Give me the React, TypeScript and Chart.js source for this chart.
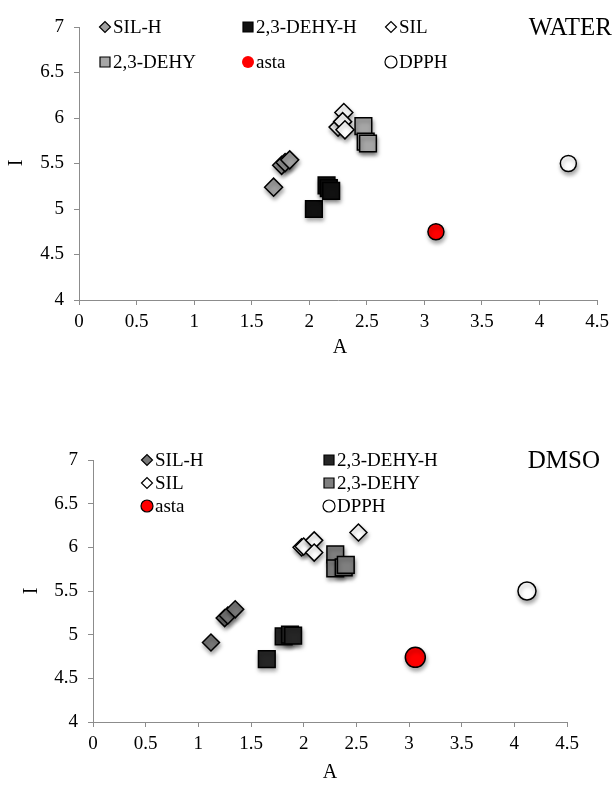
import React, { useEffect, useRef } from "react";
import { Chart, registerables } from "chart.js";

Chart.register(...registerables);

// ---------- DATA ----------
const X_TICKS = [0, 0.5, 1, 1.5, 2, 2.5, 3, 3.5, 4, 4.5];
const Y_TICKS = [4, 4.5, 5, 5.5, 6, 6.5, 7];

// WATER
const W_SILH_A = [1.69, 1.76, 1.79, 1.83];
const W_SILH_I = [5.24, 5.48, 5.51, 5.54];
const W_DEHYH_A = [2.04, 2.15, 2.17, 2.19];
const W_DEHYH_I = [5.0, 5.26, 5.23, 5.2];
const W_SIL_A = [2.3, 2.25, 2.29, 2.31];
const W_SIL_I = [6.06, 5.9, 5.96, 5.87];
const W_DEHY_A = [2.47, 2.49, 2.51];
const W_DEHY_I = [5.91, 5.74, 5.72];
const W_ASTA_A = [3.1];
const W_ASTA_I = [4.75];
const W_DPPH_A = [4.25];
const W_DPPH_I = [5.5];

// DMSO
const D_SILH_A = [1.12, 1.25, 1.28, 1.35];
const D_SILH_I = [4.91, 5.19, 5.22, 5.29];
const D_DEHYH_A = [1.65, 1.81, 1.87, 1.9];
const D_DEHYH_I = [4.72, 4.98, 5.0, 4.99];
const D_SIL_A = [1.98, 2.0, 2.1, 2.1, 2.52];
const D_SIL_I = [6.0, 6.01, 6.08, 5.94, 6.17];
const D_DEHY_A = [2.3, 2.3, 2.38, 2.4];
const D_DEHY_I = [5.92, 5.76, 5.77, 5.8];
const D_ASTA_A = [3.06];
const D_ASTA_I = [4.74];
const D_DPPH_A = [4.12];
const D_DPPH_I = [5.5];

const SERIES_NAMES = ["SIL-H", "2,3-DEHY-H", "SIL", "2,3-DEHY", "asta", "DPPH"];

const FONT = "'Liberation Serif', 'Times New Roman', serif";

const pts = (a: number[], i: number[]) => a.map((x, k) => ({ x, y: i[k] }));

type Style = { style: string; fill: string; r: number };

function makeDatasets(data: [number[], number[]][], styles: Style[]) {
  return data.map(([a, i], k) => ({
    label: SERIES_NAMES[k],
    data: pts(a, i),
    pointStyle: styles[k].style,
    pointRadius: styles[k].r,
    pointHoverRadius: styles[k].r,
    backgroundColor: styles[k].fill,
    borderColor: "#000000",
    pointBorderWidth: 1.5,
    showLine: false,
  }));
}

type LegendItem = { name: string; style: string; fill: string; border: boolean; x: number; y: number };

type Panel = {
  width: number;
  height: number;
  left: number;
  right: number;
  top: number;
  bottom: number;
  datasets: any[];
  legend: LegendItem[];
  title: string;
  titleX: number;
  titleY: number;
  yTitle: [number, number];
  xTitle: [number, number];
};

function drawMarker(ctx: CanvasRenderingContext2D, it: LegendItem) {
  ctx.save();
  ctx.fillStyle = it.fill;
  ctx.strokeStyle = "#000";
  ctx.lineWidth = 1.2;
  ctx.beginPath();
  const s = 5.5;
  if (it.style === "rectRot") {
    ctx.moveTo(it.x - s, it.y);
    ctx.lineTo(it.x, it.y - s);
    ctx.lineTo(it.x + s, it.y);
    ctx.lineTo(it.x, it.y + s);
    ctx.closePath();
  } else if (it.style === "rect") {
    ctx.rect(it.x - 5, it.y - 5, 10, 10);
  } else {
    ctx.arc(it.x, it.y, 6, 0, Math.PI * 2);
  }
  ctx.fill();
  if (it.border) ctx.stroke();
  ctx.restore();
  ctx.save();
  ctx.fillStyle = "#000";
  ctx.font = `19px ${FONT}`;
  ctx.textBaseline = "middle";
  ctx.textAlign = "left";
  ctx.fillText(it.name, it.x + 8, it.y + 1);
  ctx.restore();
}

function buildConfig(p: Panel): any {
  const decor = {
    id: "decor",
    beforeDatasetsDraw(chart: any) {
      const ctx = chart.ctx;
      ctx.save();
      ctx.shadowColor = "rgba(0,0,0,0.35)";
      ctx.shadowBlur = 4;
      ctx.shadowOffsetX = 1;
      ctx.shadowOffsetY = 3;
    },
    afterDatasetsDraw(chart: any) {
      chart.ctx.restore();
    },
    afterDraw(chart: any) {
      const ctx = chart.ctx as CanvasRenderingContext2D;
      p.legend.forEach((it) => drawMarker(ctx, it));
      ctx.save();
      ctx.fillStyle = "#000";
      ctx.font = `25px ${FONT}`;
      ctx.textAlign = "right";
      ctx.textBaseline = "middle";
      ctx.fillText(p.title, p.titleX, p.titleY);
      ctx.font = `20px ${FONT}`;
      ctx.textAlign = "center";
      ctx.fillText("A", p.xTitle[0], p.xTitle[1]);
      ctx.translate(p.yTitle[0], p.yTitle[1]);
      ctx.rotate(-Math.PI / 2);
      ctx.fillText("I", 0, 0);
      ctx.restore();
    },
  };
  return {
    type: "scatter",
    data: { datasets: p.datasets },
    plugins: [decor],
    options: {
      animation: false,
      responsive: false,
      devicePixelRatio: 1,
      layout: { padding: { left: 0, right: p.width - p.right, top: p.top, bottom: 0 } },
      plugins: { legend: { display: false }, tooltip: { enabled: false } },
      scales: {
        x: {
          type: "linear",
          min: 0,
          max: 4.5,
          afterFit: (s: any) => {
            s.height = p.height - p.bottom;
          },
          afterBuildTicks: (s: any) => {
            s.ticks = X_TICKS.map((v) => ({ value: v }));
          },
          ticks: {
            autoSkip: false,
            maxRotation: 0,
            padding: 6,
            color: "#000",
            font: { family: FONT, size: 19 },
            callback: (v: any) => String(v),
          },
          grid: { drawOnChartArea: false, drawTicks: true, tickLength: 5, color: "#8c8c8c", lineWidth: 1 },
          border: { display: true, color: "#8c8c8c", width: 1 },
        },
        y: {
          type: "linear",
          min: 4,
          max: 7,
          afterFit: (s: any) => {
            s.width = p.left;
          },
          afterBuildTicks: (s: any) => {
            s.ticks = Y_TICKS.map((v) => ({ value: v }));
          },
          ticks: {
            padding: 10,
            color: "#000",
            font: { family: FONT, size: 19 },
            callback: (v: any) => String(v),
          },
          grid: { drawOnChartArea: false, drawTicks: true, tickLength: 5, color: "#8c8c8c", lineWidth: 1 },
          border: { display: true, color: "#8c8c8c", width: 1 },
        },
      },
    },
  };
}

const TOP_STYLES: Style[] = [
  { style: "rectRot", fill: "#a0a0a0", r: 9 },
  { style: "rect", fill: "#111111", r: 11.8 },
  { style: "rectRot", fill: "#ffffff", r: 9 },
  { style: "rect", fill: "#a6a6a6", r: 11.8 },
  { style: "circle", fill: "#ff0000", r: 8 },
  { style: "circle", fill: "#ffffff", r: 8 },
];

const BOT_STYLES: Style[] = [
  { style: "rectRot", fill: "#777777", r: 8.5 },
  { style: "rect", fill: "#262626", r: 11.8 },
  { style: "rectRot", fill: "#ffffff", r: 8.5 },
  { style: "rect", fill: "#7f7f7f", r: 11.8 },
  { style: "circle", fill: "#ff0000", r: 10 },
  { style: "circle", fill: "#ffffff", r: 9 },
];

const topPanel: Panel = {
  width: 615,
  height: 392,
  left: 79,
  right: 602,
  top: 27,
  bottom: 300,
  datasets: makeDatasets(
    [
      [W_SILH_A, W_SILH_I],
      [W_DEHYH_A, W_DEHYH_I],
      [W_SIL_A, W_SIL_I],
      [W_DEHY_A, W_DEHY_I],
      [W_ASTA_A, W_ASTA_I],
      [W_DPPH_A, W_DPPH_I],
    ],
    TOP_STYLES
  ),
  legend: [
    { name: SERIES_NAMES[0], style: "rectRot", fill: "#a0a0a0", border: true, x: 105, y: 27 },
    { name: SERIES_NAMES[1], style: "rect", fill: "#111111", border: true, x: 248, y: 27 },
    { name: SERIES_NAMES[2], style: "rectRot", fill: "#ffffff", border: true, x: 391, y: 27 },
    { name: SERIES_NAMES[3], style: "rect", fill: "#a6a6a6", border: true, x: 105, y: 62 },
    { name: SERIES_NAMES[4], style: "circle", fill: "#ff0000", border: false, x: 248, y: 62 },
    { name: SERIES_NAMES[5], style: "circle", fill: "#ffffff", border: true, x: 391, y: 62 },
  ],
  title: "WATER",
  titleX: 612,
  titleY: 28,
  yTitle: [17, 163],
  xTitle: [340, 348],
};

const botPanel: Panel = {
  width: 615,
  height: 393,
  left: 93,
  right: 567,
  top: 68,
  bottom: 330,
  datasets: makeDatasets(
    [
      [D_SILH_A, D_SILH_I],
      [D_DEHYH_A, D_DEHYH_I],
      [D_SIL_A, D_SIL_I],
      [D_DEHY_A, D_DEHY_I],
      [D_ASTA_A, D_ASTA_I],
      [D_DPPH_A, D_DPPH_I],
    ],
    BOT_STYLES
  ),
  legend: [
    { name: SERIES_NAMES[0], style: "rectRot", fill: "#777777", border: true, x: 147, y: 68 },
    { name: SERIES_NAMES[1], style: "rect", fill: "#262626", border: true, x: 329, y: 68 },
    { name: SERIES_NAMES[2], style: "rectRot", fill: "#ffffff", border: true, x: 147, y: 91 },
    { name: SERIES_NAMES[3], style: "rect", fill: "#7f7f7f", border: true, x: 329, y: 91 },
    { name: SERIES_NAMES[4], style: "circle", fill: "#ff0000", border: true, x: 147, y: 114 },
    { name: SERIES_NAMES[5], style: "circle", fill: "#ffffff", border: true, x: 329, y: 114 },
  ],
  title: "DMSO",
  titleX: 600,
  titleY: 69,
  yTitle: [32, 199],
  xTitle: [330, 381],
};

function ChartPanel({ panel, top }: { panel: Panel; top: number }) {
  const ref = useRef<HTMLCanvasElement | null>(null);
  useEffect(() => {
    if (!ref.current) return;
    const chart = new Chart(ref.current, buildConfig(panel));
    return () => chart.destroy();
  }, [panel]);
  return (
    <canvas
      ref={ref}
      width={panel.width}
      height={panel.height}
      style={{ position: "absolute", left: 0, top, width: panel.width, height: panel.height, display: "block" }}
    />
  );
}

export default function App() {
  return (
    <div style={{ position: "absolute", left: 0, top: 0, width: 615, height: 785, background: "#fff" }}>
      <ChartPanel panel={topPanel} top={0} />
      <ChartPanel panel={botPanel} top={392} />
    </div>
  );
}
